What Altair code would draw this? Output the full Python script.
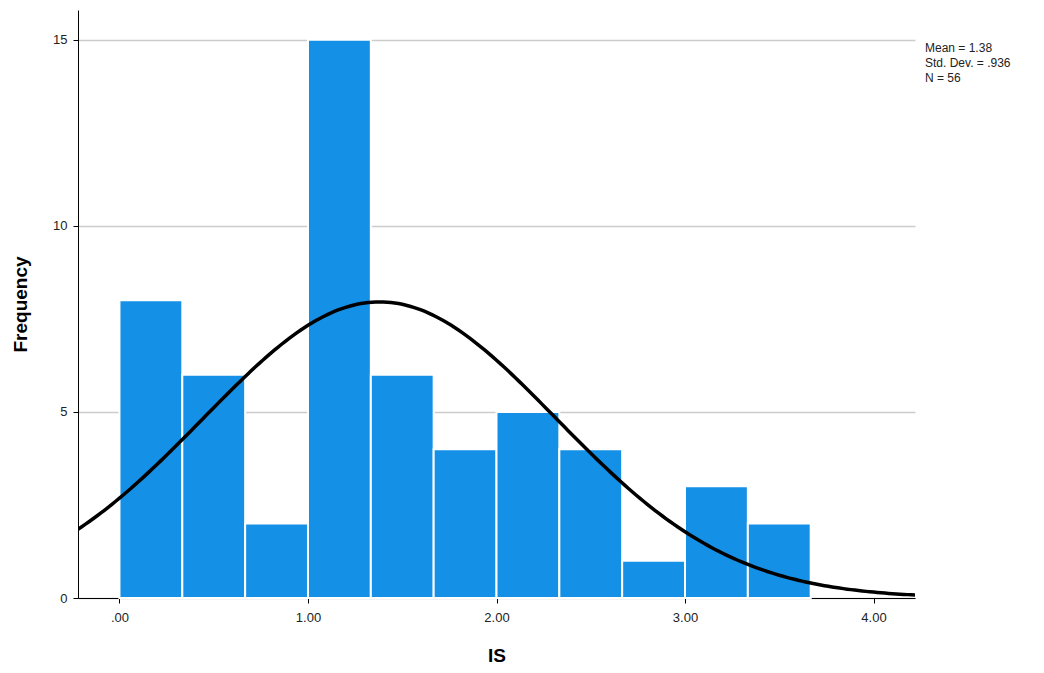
"Histogram of IS with fitted normal curve"

import pandas as pd
import altair as alt

bin_start = [0.0, 1/3, 2/3, 1.0, 4/3, 5/3, 2.0, 7/3, 8/3, 3.0, 10/3]
frequency = [8, 6, 2, 15, 6, 4, 5, 4, 1, 3, 2]
bin_width = 1/3
mean = 1.38
std_dev = 0.936
n = 56
stats_lines = ["Mean = 1.38", "Std. Dev. = .936", "N = 56"]

bars = pd.DataFrame({
    "start": bin_start,
    "end": [s + bin_width for s in bin_start],
    "freq": frequency,
})

x_scale = alt.Scale(domain=[-0.22, 4.22], nice=False, zero=False)
y_scale = alt.Scale(domain=[0, 15.8], nice=False)

hist = alt.Chart(bars).mark_rect(
    color="#1490E6", stroke="white", strokeWidth=2
).encode(
    x=alt.X("start:Q", scale=x_scale, title="IS",
            axis=alt.Axis(values=[0, 1, 2, 3, 4], format=".2f",
                          labelExpr="replace(datum.label, /^0/, '')",
                          grid=False)),
    x2="end:Q",
    y=alt.Y("freq:Q", scale=y_scale, title="Frequency",
            axis=alt.Axis(values=[0, 5, 10, 15], grid=True)),
    y2=alt.datum(0),
)

curve = alt.Chart(alt.sequence(-0.22, 4.23, 0.02, as_="x")).transform_calculate(
    y=f"{n * bin_width} * exp(-0.5 * pow((datum.x - {mean}) / {std_dev}, 2)) / ({std_dev} * sqrt(2 * PI))"
).mark_line(color="black", strokeWidth=3.5, clip=True).encode(
    x=alt.X("x:Q", scale=x_scale),
    y=alt.Y("y:Q", scale=y_scale),
)

stats = alt.Chart(pd.DataFrame({"t": stats_lines, "py": [38, 53, 68]})).mark_text(
    align="left", baseline="middle", fontSize=12, font="Arial", color="#222"
).encode(
    x=alt.value(847),
    y=alt.Y("py:Q", scale=None),
    text="t:N",
)

chart = alt.layer(hist, curve, stats).properties(
    width=837, height=588,
    padding={"top": 2, "left": 3, "right": 5, "bottom": 5},
).configure_view(stroke=None).configure_axis(
    domainColor="black", tickColor="black", labelColor="#222",
    labelFont="Arial", labelFontSize=13, titleFont="Arial", titleFontSize=19,
    titleFontWeight="bold", titleColor="black", gridColor="#CCCCCC",
    gridWidth=1.5, tickSize=5,
).configure_axisX(titlePadding=22, labelPadding=8).configure_axisY(
    titlePadding=22, labelPadding=6
)

chart.save("out.html", embed_options={"renderer": "svg", "actions": False})
